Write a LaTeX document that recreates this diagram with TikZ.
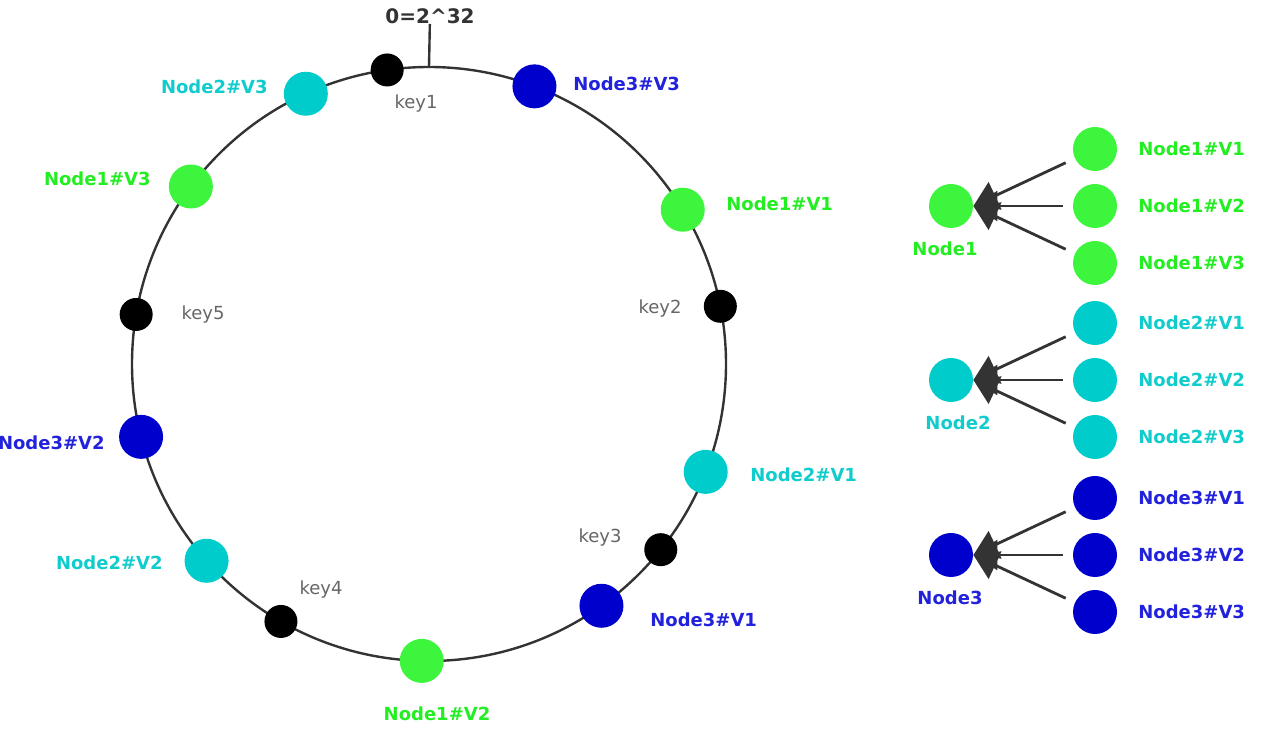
\documentclass[tikz,border=0pt]{standalone}
\usepackage{fontspec}
\setmainfont{DejaVu Sans}
\usepackage{tikz}
\usetikzlibrary{arrows.meta}
\definecolor{ring}{HTML}{333333}
\definecolor{keygray}{HTML}{666666}
\definecolor{ngreen}{HTML}{3DF53D}
\definecolor{ncyan}{HTML}{00CCCC}
\definecolor{nblue}{HTML}{0000CC}
\definecolor{tgreen}{HTML}{22EE22}
\definecolor{tcyan}{HTML}{11CCCC}
\definecolor{tblue}{HTML}{2222DD}
\tikzset{
  ringline/.style={draw=ring, line width=1.2pt},
  vdot/.style={circle, inner sep=0pt, minimum size=22pt},
  kdot/.style={circle, fill=black, inner sep=0pt, minimum size=16.5pt},
  lab/.style={font=\bfseries\fontsize{9}{10}\selectfont, inner sep=0pt},
  keylab/.style={text=keygray, font=\fontsize{9}{10}\selectfont, inner sep=0pt},
  link/.style={draw=ring, line width=1.4pt, shorten <=5pt, -{Triangle[length=12pt,width=15pt]}},
}

\begin{document}
\begin{tikzpicture}[x=0.5pt, y=0.5pt]
  \useasboundingbox (0,0) rectangle (1280,733);
  \def\r{297}
  \coordinate (C) at (429,369);

  % hash ring
  \draw[ringline] (C) circle[radius=\r];
  \begin{scope}[shift={(C)}]
    \coordinate (top) at (90:\r);
    \node[kdot] (k1) at (98.1:\r) {};
    \node[kdot] (k2) at (11.2:\r) {};
    \node[kdot] (k3) at (-38.7:\r) {};
    \node[kdot] (k4) at (240.1:\r) {};
    \node[kdot] (k5) at (170.4:\r) {};
    \node[vdot, fill=ngreen] (r11) at (31.3:\r) {};
    \node[vdot, fill=ngreen] (r12) at (268.6:\r) {};
    \node[vdot, fill=ngreen] (r13) at (143.3:\r) {};
    \node[vdot, fill=ncyan] (r21) at (-21.3:\r) {};
    \node[vdot, fill=ncyan] (r22) at (221.5:\r) {};
    \node[vdot, fill=ncyan] (r23) at (114.5:\r) {};
    \node[vdot, fill=nblue] (r31) at (-54.5:\r) {};
    \node[vdot, fill=nblue] (r32) at (194.2:\r) {};
    \node[vdot, fill=nblue] (r33) at (69.2:\r) {};
  \end{scope}

  \node[lab, text=ring, font=\bfseries\fontsize{10}{11}\selectfont] (zero) at (430,717) {0=2\^{}32};
  \draw[ringline] (zero) -- (top);

  % ring labels
  \node[keylab] (lk1) at (416,629) {key1};
  \node[keylab] (lk2) at (660,424) {key2};
  \node[keylab] (lk3) at (600,195) {key3};
  \node[keylab] (lk4) at (321,143) {key4};
  \node[keylab] (lk5) at (203,418) {key5};
  \node[lab, text=tgreen, anchor=west] (l11) at (726,529) {Node1\#V1};
  \node[lab, text=tgreen] (l12) at (437,19) {Node1\#V2};
  \node[lab, text=tgreen, anchor=east] (l13) at (151,554) {Node1\#V3};
  \node[lab, text=tcyan, anchor=west] (l21) at (750,258) {Node2\#V1};
  \node[lab, text=tcyan, anchor=east] (l22) at (163,170) {Node2\#V2};
  \node[lab, text=tcyan, anchor=east] (l23) at (268,646) {Node2\#V3};
  \node[lab, text=tblue, anchor=west] (l31) at (650,113) {Node3\#V1};
  \node[lab, text=tblue, anchor=east] (l32) at (105,290) {Node3\#V2};
  \node[lab, text=tblue, anchor=west] (l33) at (573,649) {Node3\#V3};

  % physical nodes and their virtual nodes
  \foreach \g/\yc/\fc/\tc/\dx in {1/527/ngreen/tgreen/-3pt, 2/353/ncyan/tcyan/3.5pt, 3/178/nblue/tblue/-0.5pt} {
    \node[vdot, fill=\fc, label={[lab, text=\tc, label distance=6.5pt, xshift=\dx]below:Node\g}] (n\g) at (951,\yc) {};
    \foreach \i/\dy in {1/57, 2/0, 3/-57} {
      \node[vdot, fill=\fc] (v\g\i) at (1095,\yc+\dy) {};
      \node[lab, text=\tc, anchor=west] (lv\g\i) at (1138,\yc+\dy) {Node\g\#V\i};
      \draw[link] (v\g\i) -- (n\g.east);
    }
  }
\end{tikzpicture}
\end{document}
